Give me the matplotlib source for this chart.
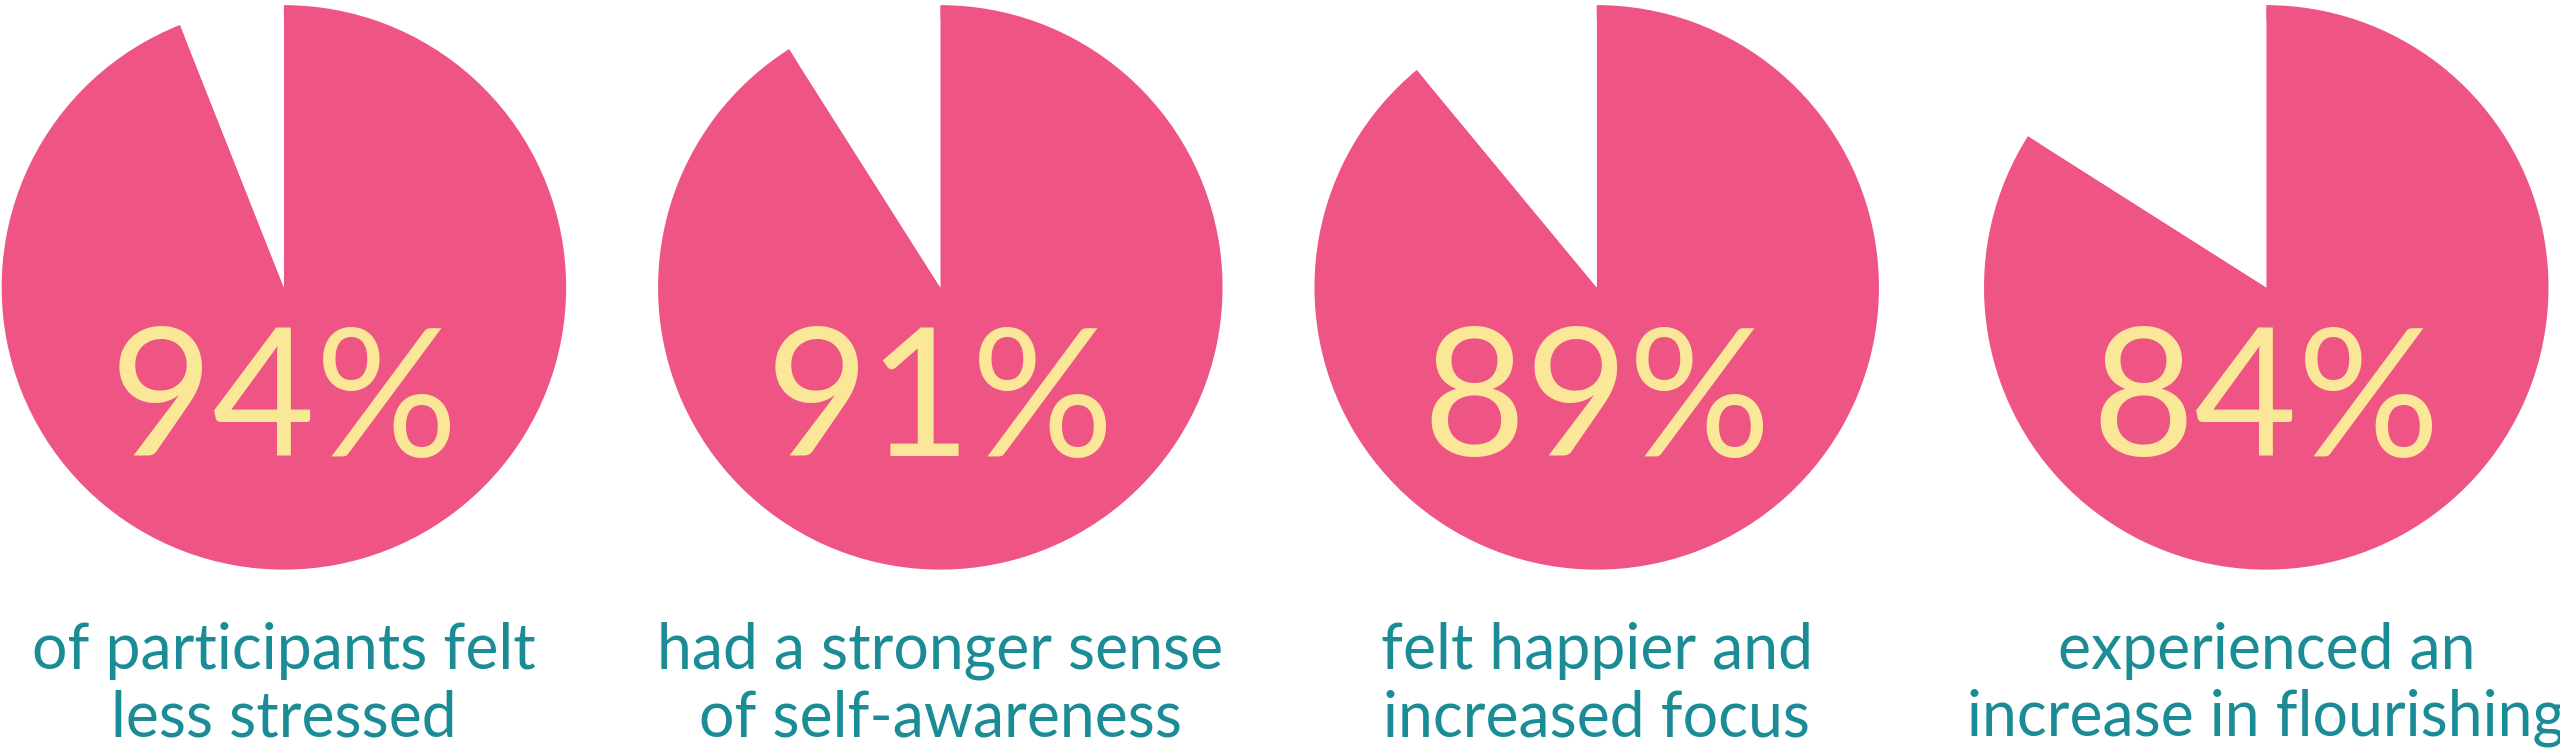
import matplotlib
matplotlib.use("Agg")
import matplotlib.pyplot as plt

values = [94, 91, 89, 84]
labels = ["of participants felt\nless stressed", "had a stronger sense\nof self-awareness",
          "felt happier and\nincreased focus", "experienced an\nincrease in flourishing"]
centers_x = [173, 573, 973, 1381]

PINK = "#EF5584"
YELLOW = "#FAE797"
TEAL = "#1B8C96"

H = 458
fig = plt.figure(figsize=(25.6, 7.52), dpi=100)
ax = fig.add_axes([0, 0, 1, 1])

R = 172
for cx, v, lab in zip(centers_x, values, labels):
    wedges, _ = ax.pie([v, 100 - v], colors=[PINK, "white"], startangle=90, counterclock=False,
                       center=(cx, H - 175), radius=R, frame=True)
    wedges[1].set_radius(R * 0.95)
    ax.text(cx, H - 247, f"{v}%", ha="center", va="center", color=YELLOW,
            fontsize=128, family="Lato", fontweight="normal")
    ax.text(cx, H - 417, lab, ha="center", va="center", color=TEAL, fontsize=45,
            family="Lato", linespacing=1.2)
ax.set_xlim(0, 1560)
ax.set_ylim(0, H)
ax.set_aspect("equal")
ax.axis("off")
fig.savefig("out.png", dpi=100)
